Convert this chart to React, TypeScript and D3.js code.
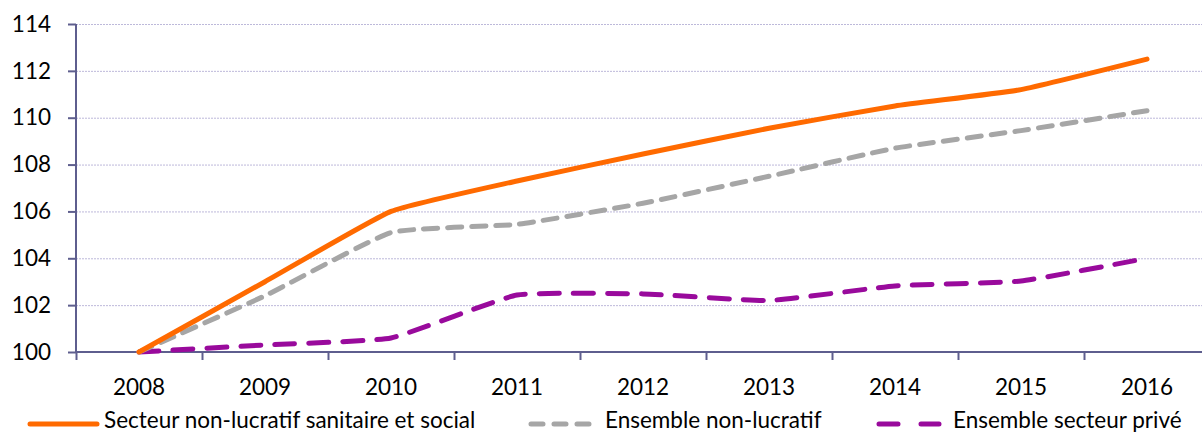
import * as d3 from 'd3';
import { useEffect, useRef } from 'react';

const years = ['2008', '2009', '2010', '2011', '2012', '2013', '2014', '2015', '2016'];
const sanitaireSocial = [100, 103.0, 106.0, 107.3, 108.45, 109.55, 110.5, 111.2, 112.5];
const ensembleNonLucratif = [100, 102.4, 105.1, 105.45, 106.35, 107.5, 108.7, 109.45, 110.3];
const ensemblePrive = [100, 100.3, 100.6, 102.43, 102.48, 102.2, 102.82, 103.03, 104.0];
const yTicks = [100, 102, 104, 106, 108, 110, 112, 114];

const seriesNames = [
  'Secteur non-lucratif sanitaire et social',
  'Ensemble non-lucratif',
  'Ensemble secteur privé',
];

const W = 1202;
const H = 433;
const FONT = 'Lato, "Open Sans", sans-serif';

const App = () => {
  const ref = useRef<SVGSVGElement>(null);

  useEffect(() => {
    const svg = d3.select(ref.current);
    svg.selectAll('*').remove();

    const x = d3.scaleBand().domain(years).range([76, 1210]);
    const y = d3.scaleLinear().domain([100, 114]).range([352, 24]);
    const axisColor = '#5E5E8E';

    // grid
    svg
      .append('g')
      .selectAll('line')
      .data(yTicks.filter((t) => t !== 100))
      .enter()
      .append('line')
      .attr('x1', 76)
      .attr('x2', W)
      .attr('y1', (d) => y(d) + 0.5)
      .attr('y2', (d) => y(d) + 0.5)
      .attr('stroke', '#BDB9DA')
      .attr('stroke-width', 1)
      .attr('stroke-dasharray', '2,1');

    // y axis
    const yAxis = svg
      .append('g')
      .attr('transform', 'translate(76,0)')
      .call(d3.axisLeft(y).tickValues(yTicks).tickSize(8).tickPadding(17).tickFormat(d3.format('d')));
    yAxis.select('.domain').attr('stroke', axisColor).attr('stroke-width', 2).attr('d', 'M0,' + y(114) + 'V' + y(100));
    yAxis.selectAll('.tick line').attr('stroke', axisColor).attr('stroke-width', 2);
    yAxis
      .selectAll('.tick text')
      .attr('fill', '#000')
      .style('font-family', FONT)
      .style('font-size', '22.5px');

    // x axis
    const xAxis = svg
      .append('g')
      .attr('transform', 'translate(0,' + y(100) + ')')
      .call(d3.axisBottom(x).tickSize(0).tickPadding(27));
    xAxis.select('.domain').attr('stroke', axisColor).attr('stroke-width', 2).attr('d', 'M76,0H' + W);
    xAxis
      .selectAll('.tick text')
      .attr('fill', '#000')
      .style('font-family', FONT)
      .style('font-size', '22.5px');
    svg
      .append('g')
      .selectAll('line')
      .data(years)
      .enter()
      .append('line')
      .attr('x1', (d) => (x(d) as number) + 0.5)
      .attr('x2', (d) => (x(d) as number) + 0.5)
      .attr('y1', y(100))
      .attr('y2', y(100) + 8)
      .attr('stroke', axisColor)
      .attr('stroke-width', 2);

    const cx = (i: number) => (x(years[i]) as number) + x.bandwidth() / 2;
    const line = d3
      .line<number>()
      .x((d, i) => cx(i))
      .y((d) => y(d))
      .curve(d3.curveCardinal.tension(0.6));

    const series = [
      { values: ensemblePrive, color: '#990A9C', dash: '20,14' },
      { values: ensembleNonLucratif, color: '#A6A6A6', dash: '14,10' },
      { values: sanitaireSocial, color: '#FF6A00', dash: null },
    ];
    series.forEach((s) => {
      const p = svg
        .append('path')
        .attr('d', line(s.values))
        .attr('fill', 'none')
        .attr('stroke', s.color)
        .attr('stroke-width', 5)
        .attr('stroke-linecap', 'round')
        .attr('stroke-linejoin', 'round');
      if (s.dash) p.attr('stroke-dasharray', s.dash);
    });

    // legend
    const legend = [
      { name: seriesNames[0], color: '#FF6A00', dash: null, x0: 30 },
      { name: seriesNames[1], color: '#A6A6A6', dash: '12,11', x0: 531 },
      { name: seriesNames[2], color: '#990A9C', dash: '19,23', x0: 879 },
    ];
    legend.forEach((l) => {
      const g = svg.append('g');
      const ln = g
        .append('line')
        .attr('x1', l.x0)
        .attr('x2', l.x0 + 67)
        .attr('y1', 424)
        .attr('y2', 424)
        .attr('stroke', l.color)
        .attr('stroke-width', 5)
        .attr('stroke-linecap', 'round');
      if (l.dash) {
        ln.attr('stroke-dasharray', l.dash).attr('x2', l.x0 + 60);
      }
      g.append('text')
        .attr('x', l.x0 + 74)
        .attr('y', 428)
        .text(l.name)
        .style('font-family', FONT)
        .style('font-size', '22.5px')
        .attr('fill', '#000');
    });
  }, []);

  return (
    <div style={{ position: 'absolute', left: 0, top: 0 }}>
      <svg ref={ref} width={W} height={H} style={{ display: 'block', background: '#fff' }}></svg>
    </div>
  );
};

export default App;
